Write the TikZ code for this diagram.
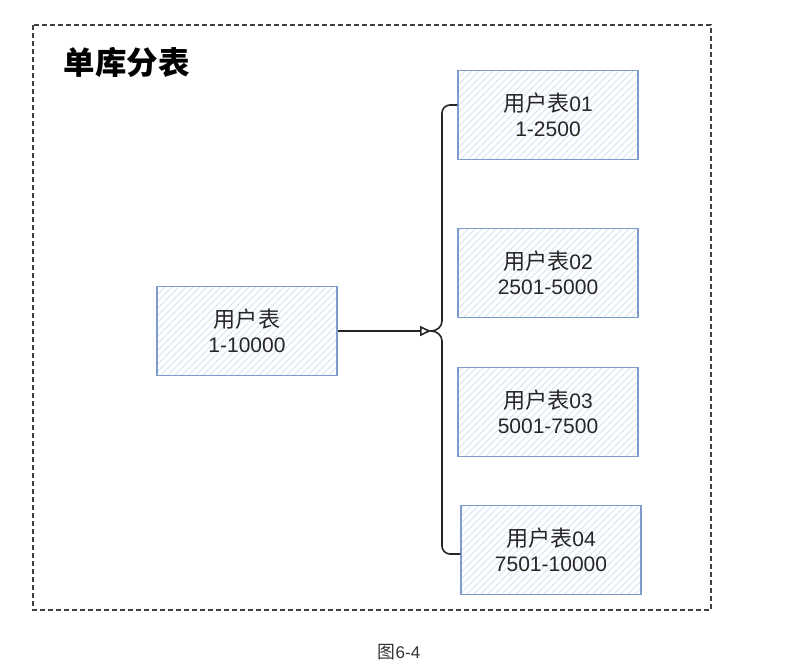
\documentclass[tikz,border=0pt]{standalone}
\usepackage{fontspec}
\setmainfont{Liberation Sans}
\newfontfamily\cjk[Scale=1.05]{Noto Sans CJK SC}
\usetikzlibrary{patterns.meta,arrows.meta}
\definecolor{boxline}{HTML}{7D9CCB}
\definecolor{hatch}{HTML}{D6E4F7}
\tikzdeclarepattern{
  name=widelines,
  type=uncolored,
  bottom left={(-.5pt,-.5pt)},
  top right={(7.5pt,7.5pt)},
  tile size={(7pt,7pt)},
  code={\draw[line width=.8pt] (-1pt,-1pt) -- (8pt,8pt);}
}
\tikzset{
  tbox/.style={draw=boxline, line width=1.2pt, minimum width=180pt, minimum height=89pt,
    inner sep=0pt, align=center, font=\fontsize{21}{25.5}\selectfont, text=black!85,
    preaction={pattern=widelines, pattern color=hatch}},
  link/.style={line width=1.6pt, black!85},
}
\newcommand{\zh}[1]{{\cjk #1}}
\begin{document}
\begin{tikzpicture}[x=1pt,y=-1pt]
\useasboundingbox (0,0) rectangle (786,669);
\fill[white] (0,0) rectangle (786,669);
\draw[black!75, line width=1.3pt, dash pattern=on 5pt off 3pt] (33,25) rectangle (711,610);
\node[anchor=west, font=\cjk\bfseries\fontsize{30}{34}\selectfont] (title) at (60,62) {单库分表};
\node[tbox] (main) at (247,331) {\zh{用户表}\\1-10000};
\node[tbox] (b1) at (548,115) {\zh{用户表}01\\1-2500};
\node[tbox] (b2) at (548,273) {\zh{用户表}02\\2501-5000};
\node[tbox] (b3) at (548,412) {\zh{用户表}03\\5001-7500};
\node[tbox] (b4) at (551,550) {\zh{用户表}04\\7501-10000};
\coordinate (bt) at (b1.west |- 0,105);
\coordinate (bb) at (b4.west |- 0,554);
\coordinate (tip) at (431,331);
\draw[link] (bt) -- (450,105) to[out=180,in=90] (442,113) -- (442,321)
  to[out=-90,in=0] (tip) to[out=0,in=90] (442,341) -- (442,546)
  to[out=-90,in=180] (450,554) -- (bb);
\draw[link, -{Triangle[open,length=11pt,width=10pt]}] (main.east) -- (tip);
\node[font=\fontsize{17}{20}\selectfont, text=black!80] (cap) at (399,652) {\zh{图}6-4};
\end{tikzpicture}
\end{document}
